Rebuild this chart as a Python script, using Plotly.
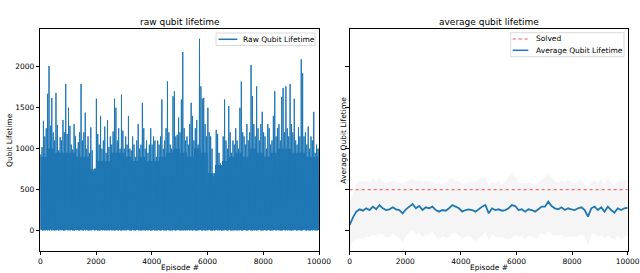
import numpy as np
import plotly.graph_objects as go

# ---------------- data ----------------
episodes_total = 10000
# per-50-episode bin maxima of the raw qubit lifetime
raw_peaks = [
    930, 1020, 1340, 1150, 1250, 1670, 2010, 1280, 1620, 1200,
    1100, 1680, 1290, 980, 1140, 1100, 1350, 1200, 1790, 1180,
    1500, 1280, 1050, 990, 1300, 1150, 1000, 1080, 1200, 1790,
    1100, 1200, 1440, 1000, 1150, 950, 1260, 980, 720, 760,
    1610, 1180, 1050, 1400, 1000, 1100, 1270, 950, 1350, 1020,
    1150, 1050, 1210, 1610, 1500, 1100, 1250, 1000, 1660, 1220,
    1000, 1150, 1050, 1400, 1000, 980, 1150, 1050, 900, 1100,
    1300, 1000, 1050, 1560, 1250, 1000, 1100, 950, 1050, 1250,
    1050, 1150, 1100, 900, 1100, 1050, 1150, 1600, 1000, 1100,
    1250, 1820, 1200, 1050, 1000, 1640, 1700, 1150, 1170, 1380,
    1200, 1600, 2180, 1250, 1100, 1150, 1050, 1300, 1560, 1400,
    1100, 1250, 1350, 1050, 2340, 1760, 1610, 1620, 1300, 1150,
    1500, 1200, 1150, 1000, 660, 700, 1230, 1180, 950, 820,
    800, 1150, 1600, 1100, 1000, 1520, 1200, 950, 1100, 1050,
    1250, 1100, 1000, 1500, 1820, 1200, 1150, 1050, 1300, 1100,
    1200, 2020, 1640, 1300, 1150, 1760, 1250, 1100, 1300, 1450,
    1200, 1150, 1000, 1300, 1250, 1050, 1100, 1400, 1700, 1150,
    1250, 1300, 1100, 1630, 1740, 1200, 1760, 1250, 1150, 1790,
    1300, 1200, 1610, 1100, 1050, 1260, 1150, 2090, 1920, 1150,
    1200, 1050, 1270, 1000, 1150, 1100, 1450, 950, 1050, 1000,
]
# typical (dense) level of the raw lifetime per 250 episodes
raw_dense = [
    900, 1000, 950, 950, 950, 900, 900, 750, 850, 850,
    950, 950, 900, 850, 900, 850, 850, 900, 950, 1000,
    950, 900, 1000, 950, 700, 800, 850, 900, 950, 900,
    1000, 950, 900, 950, 1000, 1000, 950, 950, 900, 900,
]
# per-bin minima of the raw qubit lifetime
raw_lows = [
    5, 8, 3, 12, 6, 4, 9, 15, 5, 7,
    3, 10, 6, 4, 18, 5, 8, 3, 6, 11,
    4, 7, 9, 3, 5, 14, 6, 8, 4, 10,
    6, 3, 7, 12, 5, 4, 9, 6, 16, 5,
    8, 4, 6, 3, 11, 7, 5, 9, 4, 6,
    13, 5, 7, 4, 6, 8, 3, 10, 5, 7,
    4, 9, 6, 15, 5, 3, 8, 6, 4, 12,
    7, 5, 3, 9, 6, 4, 11, 5, 8, 3,
    6, 14, 4, 7, 5, 9, 3, 6, 10, 5,
    4, 8, 6, 3, 12, 5, 7, 4, 9, 6,
    5, 3, 10, 6, 4, 8, 17, 5, 6, 3,
    9, 5, 4, 7, 6, 12, 3, 8, 5, 4,
    6, 10, 5, 3, 7, 4, 9, 6, 14, 5,
    3, 7, 5, 9, 4, 6, 11, 3, 5, 8,
    6, 4, 13, 5, 7, 3, 6, 9, 4, 5,
    8, 3, 6, 10, 5, 4, 7, 15, 6, 3,
    5, 9, 4, 6, 12, 3, 7, 5, 8, 4,
    10, 6, 3, 5, 7, 14, 4, 6, 9, 5,
    3, 8, 5, 11, 4, 6, 7, 3, 5, 13,
    6, 4, 9, 5, 3, 7, 16, 4, 6, 5,
]
# moving average of the qubit lifetime (evenly spaced over the episodes)
avg_values = [
    70, 163, 232, 261, 244, 273, 252, 293, 261, 313,
    273, 252, 261, 285, 261, 252, 212, 261, 293, 326,
    273, 301, 252, 285, 273, 293, 252, 232, 252, 244,
    273, 313, 293, 273, 232, 252, 261, 252, 232, 261,
    293, 313, 212, 273, 252, 261, 244, 252, 273, 313,
    301, 252, 261, 232, 261, 252, 232, 261, 293, 293,
    354, 301, 273, 261, 285, 252, 273, 261, 252, 273,
    285, 252, 171, 273, 293, 252, 285, 232, 293, 252,
    220, 273, 252, 273, 280,
]
# spread (std) around the moving average
avg_std = [
    260, 300, 330, 350, 350, 340, 330, 350, 330, 340,
    320, 330, 340, 320, 330, 340, 360, 330, 320, 310,
    330, 320, 340, 330, 320, 310, 330, 340, 320, 330,
    360, 340, 320, 330, 340, 320, 330, 340, 370, 360,
    350, 330, 340, 320, 330, 340, 320, 350, 380, 400,
    360, 330, 320, 340, 330, 320, 330, 340, 320, 350,
    360, 340, 330, 320, 330, 340, 350, 330, 320, 340,
    330, 320, 350, 330, 320, 330, 340, 330, 350, 340,
    330, 340, 360, 350, 320,
]
solved_level = 500
x_ticks = [0, 2000, 4000, 6000, 8000, 10000]
y_ticks = [0, 500, 1000, 1500, 2000]

# ---------------- build series ----------------
n_bins = len(raw_peaks)
bin_w = episodes_total / n_bins
dense_per = n_bins // len(raw_dense)
raw_x, raw_y = [], []
for i, (lo, hi) in enumerate(zip(raw_lows, raw_peaks)):
    base = i * bin_w
    dense = raw_dense[i // dense_per]
    raw_x += [base, base + bin_w * 0.25, base + bin_w * 0.5, base + bin_w * 0.75]
    raw_y += [lo, hi, raw_lows[(i + 7) % n_bins], dense]
raw_x.append(episodes_total)
raw_y.append(raw_peaks[-1])

avg_x = np.linspace(0, episodes_total, len(avg_values))
avg = np.array(avg_values, dtype=float)
std = np.array(avg_std, dtype=float)
upper = avg + std
lower = avg - std

BLUE = "#1f77b4"
RED = "rgba(255,0,0,0.7)"
FONT = "DejaVu Sans"

fig = go.Figure()
fig.add_trace(go.Scatter(
    x=raw_x, y=raw_y, mode="lines", name="Raw Qubit Lifetime",
    line=dict(color=BLUE, width=1, simplify=False), xaxis="x", yaxis="y",
    showlegend=False,
))
fig.add_trace(go.Scatter(
    x=np.concatenate([avg_x, avg_x[::-1]]),
    y=np.concatenate([upper, lower[::-1]]),
    fill="toself", fillcolor="rgba(128,128,128,0.08)", line=dict(width=0),
    mode="lines", showlegend=False, hoverinfo="skip",
    xaxis="x2", yaxis="y2",
))
fig.add_trace(go.Scatter(
    x=[0, episodes_total], y=[solved_level, solved_level], mode="lines",
    name="Solved", line=dict(color=RED, width=1, dash="dot"),
    xaxis="x2", yaxis="y2", showlegend=False,
))
fig.add_trace(go.Scatter(
    x=avg_x, y=avg, mode="lines", name="Average Qubit Lifetime",
    line=dict(color=BLUE, width=1.8, simplify=False), xaxis="x2", yaxis="y2",
    showlegend=False,
))

W, H = 640, 273
left_dom = [40.3 / W, 319 / W]
right_dom = [349.7 / W, 627.7 / W]
y_dom = [1 - 250.7 / H, 1 - 29 / H]
yr = [-244, 2460]

axis_common = dict(
    showgrid=False, zeroline=False, showline=True, linecolor="black",
    linewidth=0.8, mirror=True, ticks="outside", ticklen=3.5, tickwidth=0.8,
    tickcolor="black", tickfont=dict(family=FONT, size=7.5, color="black"),
    automargin=False,
)
x_text = [str(v) for v in x_ticks]
y_text = [str(v) for v in y_ticks]

fig.update_layout(
    width=W, height=H, margin=dict(l=0, r=0, t=0, b=0, autoexpand=False),
    paper_bgcolor="white", plot_bgcolor="white",
    font=dict(family=FONT, size=7.5, color="black"),
    showlegend=False,
    xaxis=dict(domain=left_dom, range=[0, episodes_total], tickvals=x_ticks,
               ticktext=x_text, anchor="y", **axis_common),
    yaxis=dict(domain=y_dom, range=yr, tickvals=y_ticks, ticktext=y_text,
               anchor="x", **axis_common),
    xaxis2=dict(domain=right_dom, range=[0, episodes_total], tickvals=x_ticks,
                ticktext=x_text, anchor="y2", **axis_common),
    yaxis2=dict(domain=y_dom, range=yr, tickvals=y_ticks, anchor="x2",
                matches="y", showticklabels=False, **axis_common),
)

def px(xp):
    return xp / W

def py(yp):
    return 1 - yp / H

ann = []
shapes = []
ann.append(dict(text="raw qubit lifetime", x=sum(left_dom) / 2, y=py(21.7),
                xref="paper", yref="paper", showarrow=False,
                font=dict(family=FONT, size=9), xanchor="center", yanchor="middle"))
ann.append(dict(text="average qubit lifetime", x=sum(right_dom) / 2, y=py(21.7),
                xref="paper", yref="paper", showarrow=False,
                font=dict(family=FONT, size=9), xanchor="center", yanchor="middle"))
for dom in (left_dom, right_dom):
    ann.append(dict(text="Episode #", x=sum(dom) / 2, y=py(267.5),
                    xref="paper", yref="paper", showarrow=False,
                    font=dict(family=FONT, size=7.5), xanchor="center", yanchor="middle"))
ann.append(dict(text="Qubit Lifetime", x=px(9), y=py(140), textangle=-90,
                xref="paper", yref="paper", showarrow=False,
                font=dict(family=FONT, size=7.5), xanchor="center", yanchor="middle"))
ann.append(dict(text="Average Qubit Lifetime", x=px(342.7), y=py(140), textangle=-90,
                xref="paper", yref="paper", showarrow=False,
                font=dict(family=FONT, size=7.5), xanchor="center", yanchor="middle"))

# legends (drawn as boxes with sample lines and labels)
legend_specs = [
    dict(box=(216, 33, 315, 45.5), entries=[("Raw Qubit Lifetime", BLUE, "solid", 1.5, 39.3)],
         sx=(218.5, 237.3), tx=240.7),
    dict(box=(510.7, 32.7, 624, 56.7),
         entries=[("Solved", RED, "dot", 1, 39.0), ("Average Qubit Lifetime", BLUE, "solid", 1.5, 50.3)],
         sx=(512.7, 528.3), tx=534.3),
]
for spec in legend_specs:
    x0, y0, x1, y1 = spec["box"]
    shapes.append(dict(type="rect", xref="paper", yref="paper",
                       x0=px(x0), x1=px(x1), y0=py(y1), y1=py(y0),
                       line=dict(color="#d0d0d0", width=0.8),
                       fillcolor="rgba(255,255,255,0.8)", layer="above"))
    for label, col, dash, wid, ey in spec["entries"]:
        shapes.append(dict(type="line", xref="paper", yref="paper",
                           x0=px(spec["sx"][0]), x1=px(spec["sx"][1]), y0=py(ey), y1=py(ey),
                           line=dict(color=col, width=wid, dash=dash), layer="above"))
        ann.append(dict(text=label, x=px(spec["tx"]), y=py(ey), xref="paper", yref="paper",
                        showarrow=False, font=dict(family=FONT, size=7.5),
                        xanchor="left", yanchor="middle"))

fig.update_layout(annotations=ann, shapes=shapes)
fig.write_html(
    "out.html",
    config={"displayModeBar": False},
    post_script="document.body.style.margin='0';document.body.style.overflow='hidden';",
)
